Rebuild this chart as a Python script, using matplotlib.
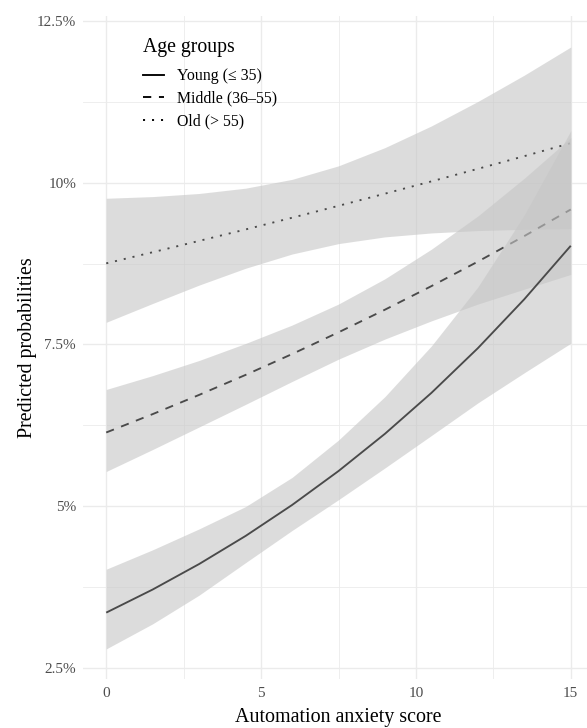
import matplotlib
matplotlib.use("Agg")
import matplotlib.pyplot as plt
from matplotlib.lines import Line2D

# ---- data (predicted probabilities, in percent) ----
x_score = [0, 1.5, 3, 4.5, 6, 7.5, 9, 10.5, 12, 13.5, 15]

young_fit = [3.356, 3.713, 4.107, 4.541, 5.019, 5.544, 6.120, 6.752, 7.443, 8.200, 9.026]
young_lo = [2.795, 3.183, 3.626, 4.128, 4.625, 5.101, 5.592, 6.093, 6.597, 7.063, 7.519]
young_hi = [4.027, 4.327, 4.650, 4.995, 5.445, 6.023, 6.695, 7.478, 8.389, 9.502, 10.803]

middle_fit = [6.140, 6.424, 6.721, 7.030, 7.352, 7.688, 8.038, 8.402, 8.781, 9.176, 9.587]
middle_lo = [5.537, 5.877, 6.225, 6.574, 6.928, 7.273, 7.584, 7.865, 8.124, 8.354, 8.582]
middle_hi = [6.805, 7.019, 7.253, 7.516, 7.800, 8.125, 8.516, 8.973, 9.486, 10.070, 10.697]

old_fit = [8.754, 8.926, 9.101, 9.278, 9.459, 9.643, 9.831, 10.021, 10.215, 10.411, 10.612]
old_lo = [7.843, 8.134, 8.418, 8.678, 8.898, 9.059, 9.163, 9.224, 9.260, 9.279, 9.290]
old_hi = [9.760, 9.786, 9.834, 9.916, 10.052, 10.261, 10.543, 10.878, 11.256, 11.663, 12.098]

group_labels = ["Young (\u2264 35)", "Middle (36\u201355)", "Old (> 55)"]
legend_title = "Age groups"
x_ticks = [0, 5, 10, 15]
x_tick_labels = ["0", "5", "10", "15"]
y_ticks = [2.5, 5, 7.5, 10, 12.5]
y_tick_labels = ["2.5%", "5%", "7.5%", "10%", "12.5%"]
x_title = "Automation anxiety score"
y_title = "Predicted probabilities"

# ---- style ----
plt.rcParams["font.family"] = ["Liberation Serif", "DejaVu Serif"]
W, H, DPI = 587, 728, 100
fig = plt.figure(figsize=(W / DPI, H / DPI), dpi=DPI)
ax = fig.add_axes([83 / W, 1 - 679 / H, 511 / W, 663 / H])
ax.set_xlim(-0.75, 15.75)
ax.set_ylim(2.33, 12.577)

grid_col = "#ebebeb"
for s in ax.spines.values():
    s.set_visible(False)
ax.set_xticks(x_ticks)
ax.set_xticklabels(x_tick_labels)
ax.set_yticks(y_ticks)
ax.set_yticklabels(y_tick_labels)
ax.set_xticks([2.5, 7.5, 12.5], minor=True)
ax.set_yticks([3.75, 6.25, 8.75, 11.25], minor=True)
ax.tick_params(which="both", length=0)
ax.tick_params(axis="both", labelsize=11, labelcolor="#4d4d4d")
ax.tick_params(axis="x", pad=6)
ax.tick_params(axis="y", pad=5)
ax.grid(True, which="major", color=grid_col, lw=1.0, zorder=0)
ax.grid(True, which="minor", color=grid_col, lw=0.6, zorder=0)
ax.set_axisbelow(True)

fill_col = "#c6c6c6"
fill_alpha = 0.6
line_col = "#4a4a4a"
lw = 1.35
styles = ["-", (0, (4.4, 4.1)), (0, (1.1, 3.7))]

series = [
    (old_fit, old_lo, old_hi, styles[2]),
    (middle_fit, middle_lo, middle_hi, styles[1]),
    (young_fit, young_lo, young_hi, styles[0]),
]
z = 2
for fit, lo, hi, ls in series:
    ax.fill_between(x_score, lo, hi, color=fill_col, alpha=fill_alpha, lw=0, zorder=z)
    ax.plot(x_score, fit, color=line_col, lw=lw, ls=ls, dash_capstyle="butt",
            solid_capstyle="butt", solid_joinstyle="round", zorder=z + 1)
    z += 2

ax.set_xlabel(x_title, fontsize=14.4, color="black", labelpad=5.5)
ax.set_ylabel(y_title, fontsize=14.4, color="black", labelpad=0)

handles = [Line2D([], [], color="black", lw=lw, ls=styles[i], dash_capstyle="butt")
           for i in range(3)]
leg = ax.legend(handles, group_labels, title=legend_title, loc="upper left",
                bbox_to_anchor=((143 - 83) / 511, (679 - 38) / 663),
                frameon=False, fontsize=11.4, title_fontsize=14.2,
                handlelength=1.3, handletextpad=0.85, labelspacing=0.42,
                borderpad=0, borderaxespad=0)
leg._legend_box.align = "left"
leg._legend_box.sep = 8
leg.set_zorder(20)

fig.savefig("out.png", dpi=DPI)
